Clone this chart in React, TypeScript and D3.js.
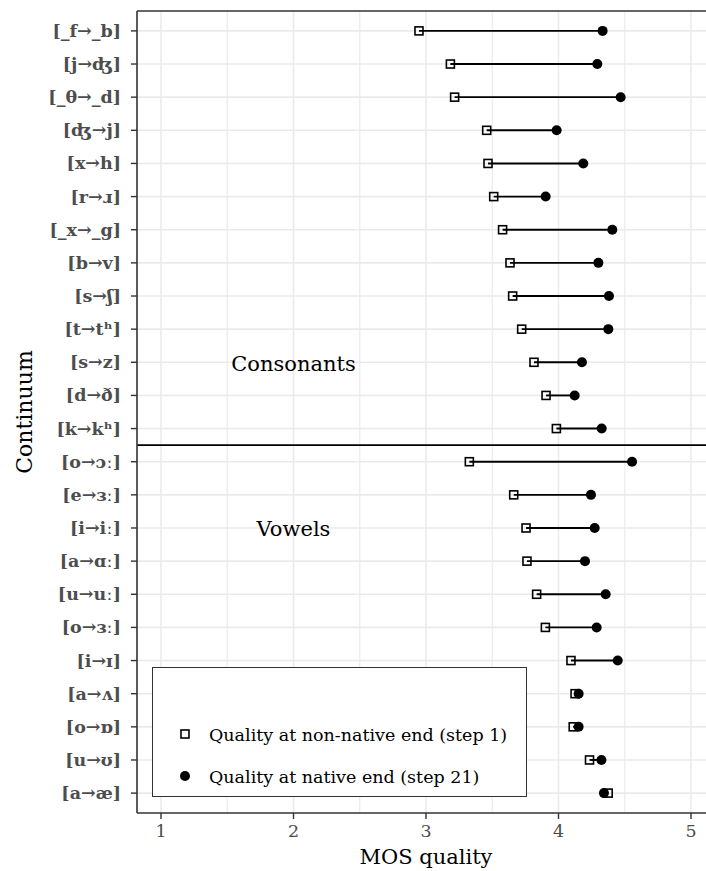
import React from "react";
import * as d3 from "d3";

const continua = [
  "[_f→_b]", "[j→ʤ]", "[_θ→_d]", "[ʤ→j]", "[x→h]", "[r→ɹ]", "[_x→_g]", "[b→v]",
  "[s→ʃ]", "[t→tʰ]", "[s→z]", "[d→ð]", "[k→kʰ]",
  "[o→ɔː]", "[e→ɜː]", "[i→iː]", "[a→ɑː]", "[u→uː]", "[o→ɜː]", "[i→ɪ]",
  "[a→ʌ]", "[o→ɒ]", "[u→ʊ]", "[a→æ]",
];
const nonNative = [
  2.947, 3.184, 3.216, 3.458, 3.468, 3.511, 3.578, 3.634, 3.654, 3.722, 3.815, 3.906, 3.984,
  3.327, 3.662, 3.755, 3.762, 3.835, 3.901, 4.094, 4.125, 4.111, 4.234, 4.375,
];
const native = [
  4.333, 4.293, 4.469, 3.986, 4.187, 3.903, 4.406, 4.301, 4.381, 4.376, 4.177, 4.122, 4.326,
  4.555, 4.245, 4.273, 4.2, 4.356, 4.288, 4.447, 4.152, 4.152, 4.324, 4.343,
];
const xTicks = [1, 2, 3, 4, 5];
const xMinor = [1.5, 2.5, 3.5, 4.5];
const groupLabels = [
  { text: "Consonants", x: 2, at: "[s→z]" },
  { text: "Vowels", x: 2, at: "[i→iː]" },
];
const legendItems = ["Quality at non-native end (step 1)", "Quality at native end (step 21)"];
const lastConsonant = "[k→kʰ]";
const firstVowel = "[o→ɔː]";

const W = 706, H = 871;
const left = 137, right = 706, top = 11, bottom = 813;
const FONT = "'DejaVu Serif', serif";

export default function App() {
  const x = d3.scaleLinear().domain([1, 5]).range([161, 691]);
  const y = d3.scalePoint<string>().domain(continua).range([top, bottom]).padding(0.6);
  const sepY = ((y(lastConsonant) as number) + (y(firstVowel) as number)) / 2;
  const sq = 8;

  return (
    <svg width={W} height={H} style={{ position: "absolute", left: 0, top: 0, background: "#fff" }}>
      {/* grid */}
      {xMinor.map((v) => (
        <line key={"mi" + v} x1={x(v)} x2={x(v)} y1={top} y2={bottom} stroke="#ebebeb" strokeWidth={1.2} />
      ))}
      {xTicks.map((v) => (
        <line key={"ma" + v} x1={x(v)} x2={x(v)} y1={top} y2={bottom} stroke="#ebebeb" strokeWidth={1.6} />
      ))}
      {continua.map((c) => (
        <line key={"hg" + c} x1={left} x2={right} y1={y(c)} y2={y(c)} stroke="#ebebeb" strokeWidth={1.6} />
      ))}

      {/* separator */}
      <line x1={left} x2={right} y1={sepY} y2={sepY} stroke="#000" strokeWidth={1.8} />

      {/* group labels */}
      {groupLabels.map((g) => (
        <text key={g.text} x={x(g.x)} y={(y(g.at) as number) + 8.5} textAnchor="middle" fontFamily={FONT} fontSize={21} fill="#000">
          {g.text}
        </text>
      ))}

      {/* segments and points */}
      {continua.map((c, i) => {
        const cy = y(c) as number;
        return (
          <g key={"d" + c}>
            <line x1={x(nonNative[i])} x2={x(native[i])} y1={cy} y2={cy} stroke="#000" strokeWidth={1.9} />
            <circle cx={x(native[i])} cy={cy} r={5} fill="#000" />
            <rect x={x(nonNative[i]) - sq / 2} y={cy - sq / 2} width={sq} height={sq} fill="none" stroke="#000" strokeWidth={1.6} />
          </g>
        );
      })}

      {/* panel border */}
      <line x1={left} x2={right} y1={top} y2={top} stroke="#333" strokeWidth={1.6} />
      <line x1={left} x2={left} y1={top} y2={bottom} stroke="#333" strokeWidth={1.6} />
      <line x1={left} x2={right} y1={bottom} y2={bottom} stroke="#333" strokeWidth={1.6} />

      {/* y axis */}
      {continua.map((c) => (
        <g key={"yl" + c}>
          <line x1={left - 6} x2={left} y1={y(c)} y2={y(c)} stroke="#333" strokeWidth={1.4} />
          <text x={left - 16} y={(y(c) as number) + 6} textAnchor="end" fontFamily={FONT} fontWeight="bold" fontSize={17.5} fill="#4d4d4d">
            {c}
          </text>
        </g>
      ))}

      {/* x axis */}
      {xTicks.map((v) => (
        <g key={"xt" + v}>
          <line x1={x(v)} x2={x(v)} y1={bottom} y2={bottom + 6} stroke="#333" strokeWidth={1.4} />
          <text x={x(v)} y={837} textAnchor="middle" fontFamily={FONT} fontSize={17.5} fill="#4d4d4d">
            {v}
          </text>
        </g>
      ))}

      {/* axis titles */}
      <text x={x(3)} y={864} textAnchor="middle" fontFamily={FONT} fontSize={21} fill="#000">
        MOS quality
      </text>
      <text transform={`translate(32, ${(top + bottom) / 2}) rotate(-90)`} textAnchor="middle" fontFamily={FONT} fontSize={22} fill="#000">
        Continuum
      </text>

      {/* legend */}
      <rect x={152.5} y={667.5} width={374} height={129} fill="#fff" stroke="#333" strokeWidth={1} />
      <rect x={185 - 4} y={734 - 4} width={8} height={8} fill="none" stroke="#000" strokeWidth={1.6} />
      <circle cx={185} cy={776} r={5} fill="#000" />
      {legendItems.map((t, i) => (
        <text key={t} x={209} y={734 + i * 42 + 6.5} fontFamily={FONT} fontSize={17.5} fill="#000">
          {t}
        </text>
      ))}
    </svg>
  );
}
